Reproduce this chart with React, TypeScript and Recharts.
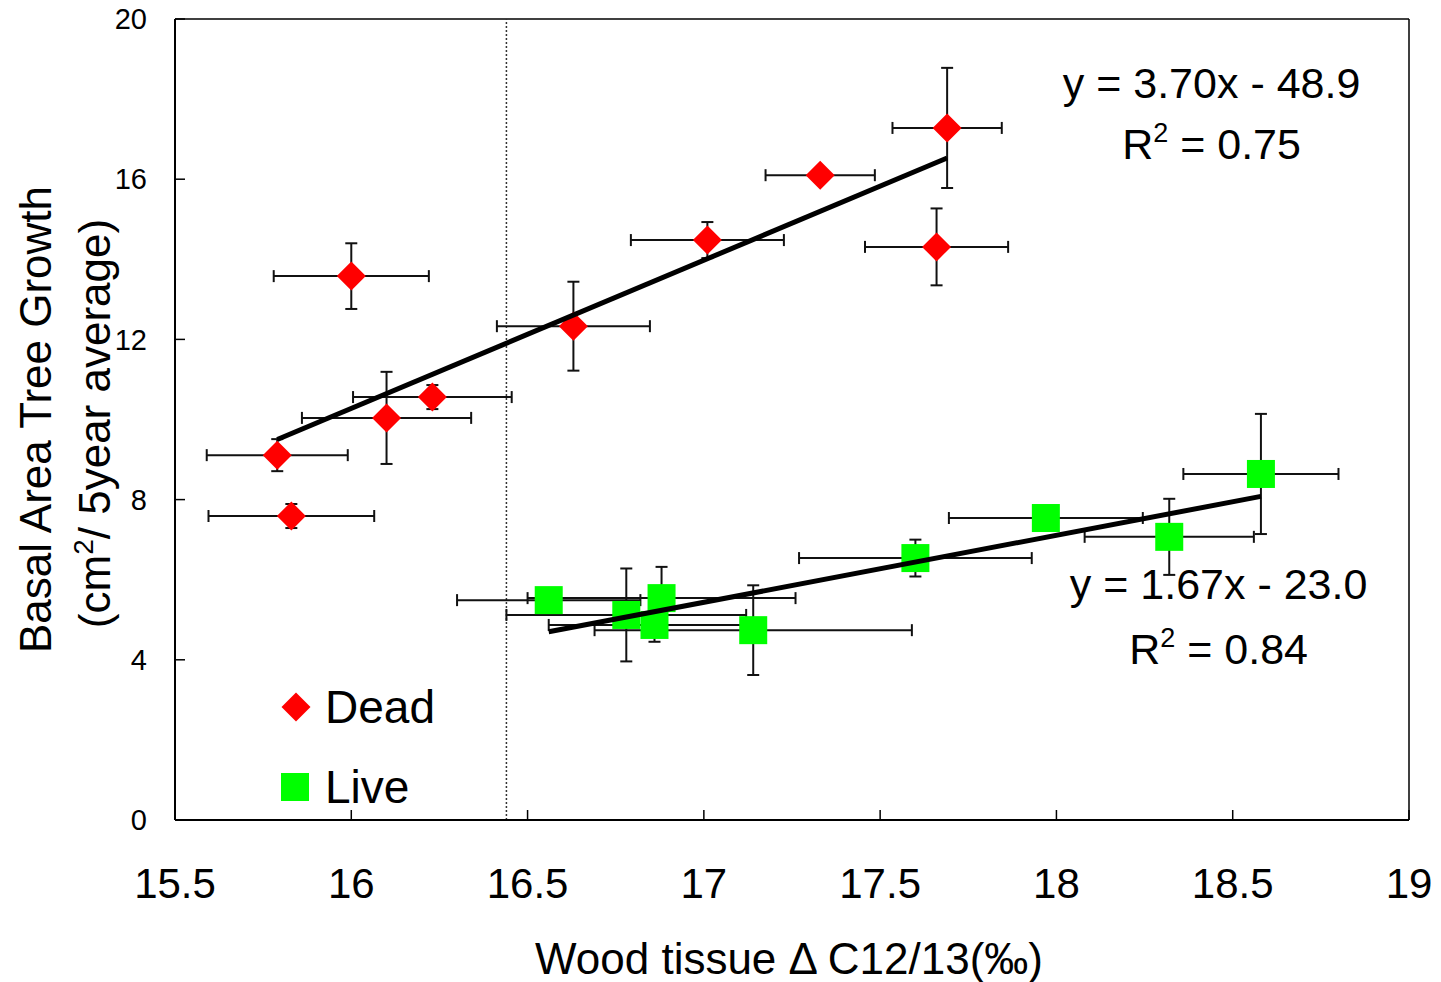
import React from 'react';
import {
    ScatterChart,
    Scatter,
    XAxis,
    YAxis,
    ErrorBar,
    ReferenceLine,
    ReferenceDot,
    Legend,
} from 'recharts';

const FONT = '"Liberation Sans", Arial, Helvetica, sans-serif';

// Dead trees
const deadX = [15.79, 15.83, 16.0, 16.1, 16.23, 16.63, 17.01, 17.33, 17.69, 17.66];
const deadY = [9.11, 7.59, 13.58, 10.04, 10.56, 12.33, 14.48, 16.1, 17.28, 14.31];
const deadXErr = [0.2, 0.235, 0.22, 0.24, 0.225, 0.217, 0.217, 0.155, 0.155, 0.203];
const deadYErr = [0.4, 0.3, 0.82, 1.15, 0.3, 1.11, 0.45, 0, 1.5, 0.96];

// Live trees
const liveX = [16.56, 16.78, 16.88, 16.86, 17.14, 17.6, 17.97, 18.32, 18.58];
const liveY = [5.49, 5.12, 5.54, 4.87, 4.74, 6.54, 7.54, 7.07, 8.64];
const liveXErr = [0.26, 0.34, 0.38, 0.3, 0.45, 0.33, 0.275, 0.24, 0.22];
const liveYErr = [0, 1.16, 0.78, 0.42, 1.12, 0.46, 0, 0.95, 1.5];

// fitted lines, end points as drawn
const deadFitX = [15.79, 17.69];
const deadFitY = [9.5, 16.53];
const liveFitX = [16.56, 18.58];
const liveFitY = [4.7, 8.08];

const xTicks = [15.5, 16, 16.5, 17, 17.5, 18, 18.5, 19];
const yTicks = [0, 4, 8, 12, 16, 20];
const cutoffX = 16.44;

const dead = deadX.map((x, i) => ({ x, y: deadY[i], ex: deadXErr[i], ey: deadYErr[i] }));
const live = liveX.map((x, i) => ({ x, y: liveY[i], ex: liveXErr[i], ey: liveYErr[i] }));
const deadFit = deadFitX.map((x, i) => ({ x, y: deadFitY[i] }));
const liveFit = liveFitX.map((x, i) => ({ x, y: liveFitY[i] }));

const Diamond = (props: any) => {
    const { cx, cy } = props;
    const r = 14.5;
    return <path d={`M${cx},${cy - r}L${cx + r},${cy}L${cx},${cy + r}L${cx - r},${cy}Z`} fill="#ff0000" />;
};

const Square = (props: any) => {
    const { cx, cy } = props;
    return <rect x={cx - 14} y={cy - 14} width={28} height={28} fill="#00ff00" />;
};

const NoShape = () => <g />;

// equation + R² text block, anchored at the baseline of the first line
const note = (eq: string, r2: string, gap: number) => (p: any) => {
    const vb = p.viewBox || {};
    const cx = vb.x + (vb.width || 0) / 2;
    const cy = vb.y + (vb.height || 0) / 2;
    return (
        <g fontFamily={FONT} fontSize={43} fill="#000">
            <text x={cx} y={cy} textAnchor="middle" fill="#000">{eq}</text>
            <text x={cx} y={cy + gap} textAnchor="middle" fill="#000">
                R<tspan fontSize={27} dy={-17}>2</tspan>
                <tspan dy={17}>{` = ${r2}`}</tspan>
            </text>
        </g>
    );
};

const XTitle = (p: any) => {
    const vb = p.viewBox;
    return (
        <text x={vb.x + vb.width / 2 - 3} y={vb.y + 154} textAnchor="middle" fontFamily={FONT} fontSize={44} fill="#000">
            Wood tissue Δ C12/13(‰)
        </text>
    );
};

const YTitle = (p: any) => {
    const vb = p.viewBox;
    const cy = vb.y + vb.height / 2;
    return (
        <g fontFamily={FONT} fontSize={44} fill="#000">
            <text x={51} y={cy} transform={`rotate(-90 51 ${cy})`} textAnchor="middle" fill="#000">
                Basal Area Tree Growth
            </text>
            <text x={110} y={cy + 4} transform={`rotate(-90 110 ${cy + 4})`} textAnchor="middle" fill="#000">
                (cm<tspan fontSize={28} dy={-17}>2</tspan>
                <tspan dy={17}>/ 5year average)</tspan>
            </text>
        </g>
    );
};

const renderLegend = (p: any) => {
    const items = (p.payload || []).filter((e: any) => e.type !== 'none');
    return (
        <div style={{ position: 'relative', width: 220, height: 140, fontFamily: FONT, fontSize: 46, color: '#000' }}>
            {items.map((e: any, i: number) => (
                <div
                    key={e.value}
                    style={{ position: 'absolute', left: 0, top: i * 80, height: 58, display: 'flex', alignItems: 'center' }}
                >
                    <svg width={59} height={58}>
                        {e.type === 'diamond' ? (
                            <path d="M30,14.5L44.5,29L30,43.5L15.5,29Z" fill="#ff0000" />
                        ) : (
                            <rect x={15} y={15} width={28} height={28} fill="#00ff00" />
                        )}
                    </svg>
                    <span style={{ lineHeight: 1 }}>{e.value}</span>
                </div>
            ))}
        </div>
    );
};

export default function App() {
    return (
        <div style={{ position: 'absolute', left: 0, top: 0, background: '#fff' }}>
            <ScatterChart width={1441} height={982} margin={{ top: 19, right: 32, bottom: 0, left: 0 }}>
                <XAxis
                    type="number"
                    dataKey="x"
                    domain={[15.5, 19]}
                    ticks={xTicks}
                    allowDataOverflow
                    height={162}
                    tickSize={-10}
                    tickMargin={58}
                    axisLine={{ stroke: '#000', strokeWidth: 2 }}
                    tickLine={{ stroke: '#000', strokeWidth: 1.5 }}
                    tick={{ fill: '#000', fontSize: 42, fontFamily: FONT }}
                    label={<XTitle />}
                />
                <YAxis
                    type="number"
                    dataKey="y"
                    domain={[0, 20]}
                    ticks={yTicks}
                    allowDataOverflow
                    width={175}
                    tickSize={-10}
                    tickMargin={38}
                    axisLine={{ stroke: '#000', strokeWidth: 2 }}
                    tickLine={{ stroke: '#000', strokeWidth: 1.5 }}
                    tick={{ fill: '#000', fontSize: 29, fontFamily: FONT }}
                    label={<YTitle />}
                />

                {/* box frame and the dotted cut-off */}
                <ReferenceLine y={20} stroke="#000" strokeWidth={1.5} />
                <ReferenceLine x={19} stroke="#000" strokeWidth={1.5} />
                <ReferenceLine x={cutoffX} stroke="#333" strokeWidth={1.5} strokeDasharray="2 2" />

                <Scatter name="Dead" data={dead} shape={<Diamond />} legendType="diamond" fill="#ff0000" isAnimationActive={false}>
                    <ErrorBar dataKey="ex" direction="x" width={6} stroke="#111" strokeWidth={2} isAnimationActive={false} />
                    <ErrorBar dataKey="ey" direction="y" width={6} stroke="#111" strokeWidth={2} isAnimationActive={false} />
                </Scatter>
                <Scatter name="Live" data={live} shape={<Square />} legendType="square" fill="#00ff00" isAnimationActive={false}>
                    <ErrorBar dataKey="ex" direction="x" width={6} stroke="#111" strokeWidth={2} isAnimationActive={false} />
                    <ErrorBar dataKey="ey" direction="y" width={6} stroke="#111" strokeWidth={2} isAnimationActive={false} />
                </Scatter>

                <Scatter data={deadFit} line={{ stroke: '#000', strokeWidth: 5 }} shape={<NoShape />} legendType="none" isAnimationActive={false} />
                <Scatter data={liveFit} line={{ stroke: '#000', strokeWidth: 5 }} shape={<NoShape />} legendType="none" isAnimationActive={false} />

                <ReferenceDot x={18.44} y={18.03} r={1} fill="none" stroke="none" label={note('y = 3.70x - 48.9', '0.75', 61)} />
                <ReferenceDot x={18.46} y={5.52} r={1} fill="none" stroke="none" label={note('y = 1.67x - 23.0', '0.84', 65)} />

                <Legend
                    layout="vertical"
                    align="center"
                    verticalAlign="middle"
                    content={renderLegend}
                    wrapperStyle={{ position: 'absolute', left: 266, top: 678, width: 220, height: 140 }}
                />
            </ScatterChart>
        </div>
    );
}
